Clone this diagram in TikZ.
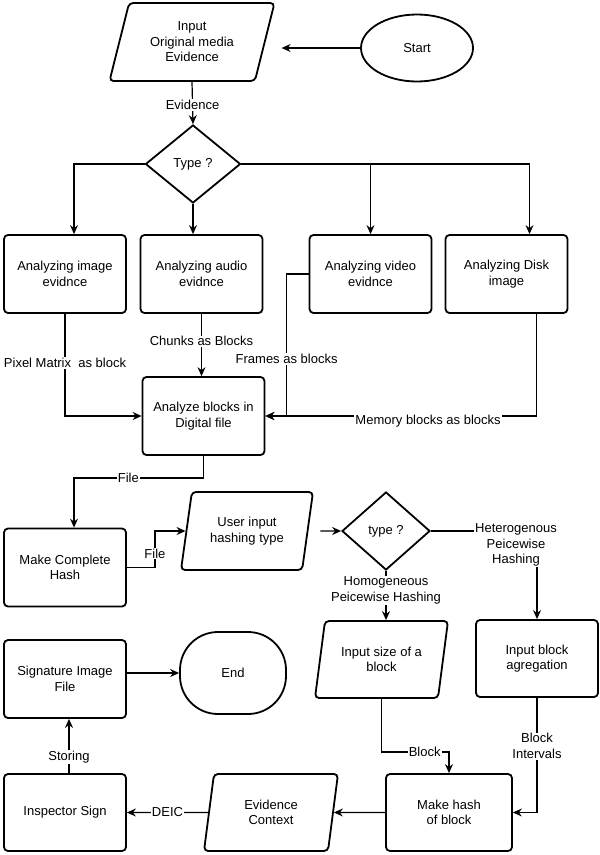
\documentclass[tikz,border=0pt]{standalone}
\usepackage{fontspec}
\setmainfont{Liberation Sans}
\usepackage{tikz}
\usetikzlibrary{arrows.meta, calc, shapes.geometric}

\begin{document}
\begin{tikzpicture}[
        x=1pt, y=-1pt,
        font=\fontsize{13}{15.5}\selectfont,
        box/.style={draw, line width=1.8pt, rounded corners=4pt, minimum width=122pt, minimum height=78pt, align=center, inner sep=2pt},
        io/.style={draw, line width=1.8pt, trapezium, trapezium left angle=71, trapezium right angle=109, trapezium stretches body, rounded corners=4pt, minimum width=133pt, minimum height=77pt, align=center, inner sep=2pt},
        decision/.style={draw, line width=1.8pt, diamond, align=center, inner sep=1pt},
        arr/.style={-{Stealth[length=9pt, width=8pt, inset=3pt]}, line width=1.2pt},
        lbl/.style={fill=white, inner sep=1pt, align=center}
    ]
        \useasboundingbox (0,0) rectangle (600,855);

        \node[io, trapezium left angle=66, trapezium right angle=114, minimum width=165pt, minimum height=78pt] (inp) at (192,42) {Input\\Original media\\Evidence};
        \node[draw, line width=1.8pt, ellipse, minimum width=112pt, minimum height=67pt] (start) at (417,48) {Start};
        \node[decision, minimum width=95pt, minimum height=78pt] (type1) at (193,164) {Type ?};
        \node[box] (img) at (65,274) {Analyzing image\\evidnce};
        \node[box] (aud) at (201.5,274) {Analyzing audio\\evidnce};
        \node[box] (vid) at (370.5,274) {Analyzing video\\evidnce};
        \node[box] (dsk) at (506.5,274) {Analyzing Disk\\image};
        \node[box] (ana) at (203.5,416) {Analyze blocks in\\Digital file};
        \node[box] (mch) at (65,567.5) {Make Complete\\Hash};
        \node[io, minimum width=132pt, minimum height=78pt] (usr) at (247,531) {User input\\hashing type};
        \node[decision, minimum width=88pt, minimum height=78pt] (type2) at (386,531) {type ?};
        \node[io] (bsize) at (381.5,659.5) {Input size of a\\block};
        \node[box, minimum height=77pt] (aggr) at (537,658.5) {Input block\\agregation};
        \node[box, minimum width=126pt, minimum height=77pt] (hashb) at (449,812.5) {Make hash\\of block};
        \node[io, minimum width=134pt] (ctx) at (271,812.5) {Evidence\\Context};
        \node[box, minimum height=77pt] (insp) at (65,812.5) {Inspector Sign};
        \node[box] (sig) at (65,679) {Signature Image\\File};
        \node[draw, line width=1.8pt, rounded corners=38pt, minimum width=106pt, minimum height=82pt] (fin) at (233,673) {End};

        \draw[arr] (start.west) -- ($(start.west -| inp.east)+(16,0)$);
        \draw[arr] (inp.south) -- node[lbl, pos=0.55] {Evidence} (type1.north);
        \draw[arr] (type1.west) -| ([xshift=9pt]img.north);
        \draw[arr] (type1.south) -- (type1.south |- aud.north);
        \draw[arr] (type1.east) -| (vid.north);
        \draw[arr] (type1.east) -| ([xshift=23pt]dsk.north);

        \draw[arr] (img.south) |- node[lbl, pos=0.24] {Pixel Matrix~ as block} (ana.west);
        \draw[arr] (aud.south) -- node[lbl, pos=0.44] {Chunks as Blocks} (aud.south |- ana.north);
        \draw[arr] (vid.west) -- ++(-22,0) |- node[lbl, pos=0.3] {Frames as blocks} (ana.east);
        \draw[arr] ([xshift=30pt]dsk.south) |- node[lbl, pos=0.7, yshift=-5pt] {Memory blocks as blocks} (ana.east);

        \draw[arr] (ana.south) -- ++(0,22) -| node[lbl, pos=0.29] {File} ([xshift=9pt]mch.north);
        \draw[arr] (mch.east) -- ++(28,0) |- node[lbl, pos=0.19] {File} (usr.west);
        \draw[arr] ([xshift=12pt]usr.east) -- (type2.west);
        \draw[arr] (type2.east) -| node[lbl, pos=0.5, xshift=-21pt, yshift=-14pt] {Heterogenous\\Peicewise\\Hashing} (aggr.north);
        \draw[arr] (type2.south) -- node[lbl, pos=0.4] {Homogeneous\\Peicewise Hashing} (type2.south |- bsize.north);

        \draw[arr] (bsize.south) -- ++(0,53) -| node[lbl, pos=0.32] {Block} (hashb.north);
        \draw[arr] (aggr.south) |- node[lbl, pos=0.21] {Block\\Intervals} (hashb.east);
        \draw[arr] (hashb.west) -- (ctx.east);
        \draw[arr] (ctx.west) -- node[lbl] {DEIC} (insp.east);
        \draw[arr] ([xshift=4pt]insp.north) -- node[lbl, pos=0.3] {Storing} ([xshift=4pt]sig.south);
        \draw[arr] (fin.west -| sig.east) -- (fin.west);
    \end{tikzpicture}
\end{document}
